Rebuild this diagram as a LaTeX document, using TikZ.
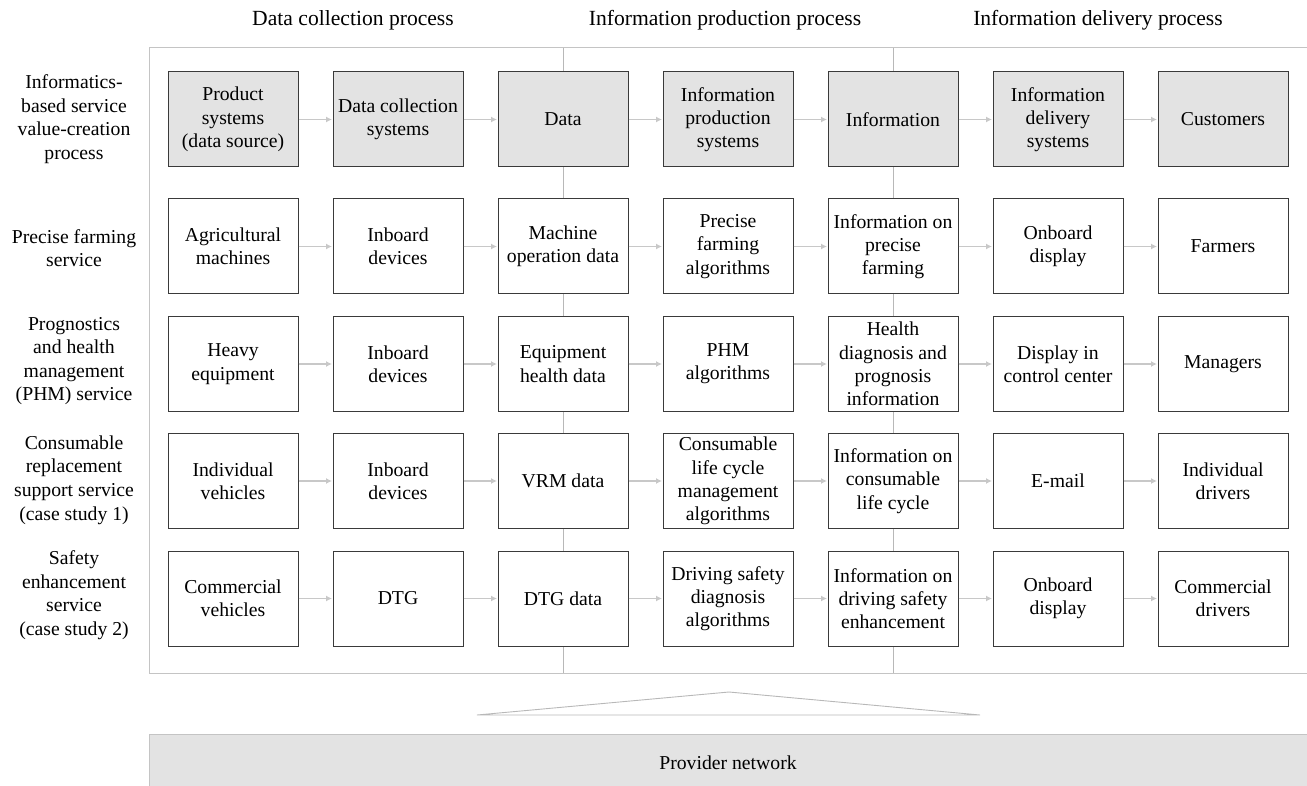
\documentclass[tikz,border=0pt]{standalone}
\usepackage{fontspec}
\setmainfont{Liberation Serif}
\usetikzlibrary{arrows.meta}
\definecolor{boxline}{HTML}{3A3A3A}
\definecolor{grayfill}{HTML}{E3E3E3}
\definecolor{frameline}{HTML}{C4C4C4}
\definecolor{arrowgray}{HTML}{C8C8C8}
\definecolor{vline}{HTML}{B8B8B8}
\tikzset{
  cell/.style={draw=boxline, line width=1pt, fill=white, minimum width=130pt, minimum height=95pt,
    inner sep=0pt, align=center, font=\fontsize{19.7}{23.3}\selectfont},
  headcell/.style={cell, fill=grayfill},
  rowlabel/.style={align=center, inner sep=0pt, font=\fontsize{19.7}{23.6}\selectfont},
  headlabel/.style={inner sep=0pt, font=\fontsize{21.6}{25}\selectfont},
  arr/.style={draw=arrowgray, line width=1.6pt, -{Latex[length=6pt,width=6pt]}, shorten >=0.5pt},
  frame/.style={draw=frameline, line width=1pt},
  procline/.style={draw=vline, line width=1pt},
}
\begin{document}
\begin{tikzpicture}[x=1pt,y=-1pt]
\useasboundingbox (0,0) rectangle (1307,786);
% outer frame
\coordinate (fTL) at (149,48);
\coordinate (fBR) at (1312,673);
\draw[frame] (fTL) rectangle (fBR);
% process dividing lines
\coordinate (t3) at (563,48); \coordinate (b3) at (563,673);
\coordinate (t5) at (893,48); \coordinate (b5) at (893,673);
\draw[procline] (t3) -- (b3);
\draw[procline] (t5) -- (b5);
% headers
\node[headlabel] (h1) at (353,20) {Data collection process};
\node[headlabel] (h2) at (725,20) {Information production process};
\node[headlabel] (h3) at (1098,20) {Information delivery process};
% row labels
\node[rowlabel] (r1) at (74,119) {Informatics-\\based service\\value-creation\\process};
\node[rowlabel] (r2) at (74,248) {Precise farming\\service};
\node[rowlabel] (r3) at (74,361) {Prognostics\\and health\\management\\(PHM) service};
\node[rowlabel] (r4) at (74,480) {Consumable\\replacement\\support service\\(case study 1)};
\node[rowlabel] (r5) at (74,595) {Safety\\enhancement\\service\\(case study 2)};
% row 1
\node[headcell] (n11) at (233,119.5) {Product\\systems\\(data source)};
\node[headcell] (n12) at (398,119.5) {Data collection\\systems};
\node[headcell] (n13) at (563,119.5) {Data};
\node[headcell] (n14) at (728,119.5) {Information\\production\\systems};
\node[headcell] (n15) at (893,119.5) {Information};
\node[headcell] (n16) at (1058,119.5) {Information\\delivery\\systems};
\node[headcell] (n17) at (1223,119.5) {Customers};
% row 2
\node[cell] (n21) at (233,246.5) {Agricultural\\machines};
\node[cell] (n22) at (398,246.5) {Inboard\\devices};
\node[cell] (n23) at (563,246.5) {Machine\\operation data};
\node[cell] (n24) at (728,246.5) {Precise\\farming\\algorithms};
\node[cell] (n25) at (893,246.5) {Information on\\precise\\farming};
\node[cell] (n26) at (1058,246.5) {Onboard\\display};
\node[cell] (n27) at (1223,246.5) {Farmers};
% row 3
\node[cell] (n31) at (233,364) {Heavy\\equipment};
\node[cell] (n32) at (398,364) {Inboard\\devices};
\node[cell] (n33) at (563,364) {Equipment\\health data};
\node[cell] (n34) at (728,364) {PHM\\algorithms};
\node[cell] (n35) at (893,364) {Health\\diagnosis and\\prognosis\\information};
\node[cell] (n36) at (1058,364) {Display in\\control center};
\node[cell] (n37) at (1223,364) {Managers};
% row 4
\node[cell] (n41) at (233,481) {Individual\\vehicles};
\node[cell] (n42) at (398,481) {Inboard\\devices};
\node[cell] (n43) at (563,481) {VRM data};
\node[cell] (n44) at (728,481) {Consumable\\life cycle\\management\\algorithms};
\node[cell] (n45) at (893,481) {Information on\\consumable\\life cycle};
\node[cell] (n46) at (1058,481) {E-mail};
\node[cell] (n47) at (1223,481) {Individual\\drivers};
% row 5
\node[cell] (n51) at (233,598.5) {Commercial\\vehicles};
\node[cell] (n52) at (398,598.5) {DTG};
\node[cell] (n53) at (563,598.5) {DTG data};
\node[cell] (n54) at (728,598.5) {Driving safety\\diagnosis\\algorithms};
\node[cell] (n55) at (893,598.5) {Information on\\driving safety\\enhancement};
\node[cell] (n56) at (1058,598.5) {Onboard\\display};
\node[cell] (n57) at (1223,598.5) {Commercial\\drivers};
% arrows
\foreach \r in {1,...,5}{
  \foreach \c/\d in {1/2,2/3,3/4,4/5,5/6,6/7}{
    \draw[arr] (n\r\c.east) -- (n\r\d.west);
  }
}
% triangle
\coordinate (triL) at (477,715);
\coordinate (triA) at (729,692);
\coordinate (triR) at (980,715);
\draw[draw=vline, line width=0.9pt] (triL) -- (triA) -- (triR) -- cycle;
% provider network bar
\coordinate (pTL) at (149,734);
\coordinate (pBR) at (1312,795);
\draw[draw=frameline, fill=grayfill, line width=1pt] (pTL) rectangle (pBR);
\node[headlabel, font=\fontsize{19.7}{23}\selectfont] (prov) at (728,763) {Provider network};
\end{tikzpicture}
\end{document}
